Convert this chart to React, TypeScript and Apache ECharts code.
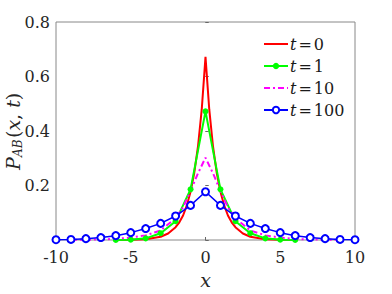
import React, { useEffect, useRef } from "react";
import * as echarts from "echarts";

const xTicks = [-10, -5, 0, 5, 10];
const yTicks = [0, 0.2, 0.4, 0.6, 0.8];

// t = 0 (smooth curve, no markers)
const redX = [-6, -5, -4, -3, -2.5, -2, -1.75, -1.5, -1.25, -1, -0.75, -0.5, -0.25, 0, 0.25, 0.5, 0.75, 1, 1.25, 1.5, 1.75, 2, 2.5, 3, 4, 5, 6];
const redY = [0.0002, 0.001, 0.003, 0.012, 0.024, 0.047, 0.065, 0.09, 0.127, 0.177, 0.247, 0.344, 0.48, 0.672, 0.48, 0.344, 0.247, 0.177, 0.127, 0.09, 0.065, 0.047, 0.024, 0.012, 0.003, 0.001, 0.0002];

// t = 1 (filled markers)
const greenX = [-6, -5, -4, -3, -2, -1, 0, 1, 2, 3, 4, 5, 6];
const greenY = [0.0, 0.001, 0.006, 0.025, 0.069, 0.186, 0.472, 0.186, 0.069, 0.025, 0.006, 0.001, 0.0];

// t = 10 (dash-dot)
const magentaX = [-9, -8, -7, -6, -5, -4, -3, -2, -1.5, -1, -0.5, 0, 0.5, 1, 1.5, 2, 3, 4, 5, 6, 7, 8, 9];
const magentaY = [0.0005, 0.001, 0.002, 0.004, 0.009, 0.017, 0.035, 0.08, 0.12, 0.18, 0.245, 0.302, 0.245, 0.18, 0.12, 0.08, 0.035, 0.017, 0.009, 0.004, 0.002, 0.001, 0.0005];

// t = 100 (open markers)
const blueX = [-10, -9, -8, -7, -6, -5, -4, -3, -2, -1, 0, 1, 2, 3, 4, 5, 6, 7, 8, 9, 10];
const blueY = [0.001, 0.002, 0.005, 0.009, 0.016, 0.027, 0.042, 0.061, 0.088, 0.127, 0.177, 0.127, 0.088, 0.061, 0.042, 0.027, 0.016, 0.009, 0.005, 0.002, 0.001];

const seriesNames = ["t = 0", "t = 1", "t = 10", "t = 100"];

const zip = (xs: number[], ys: number[]) => xs.map((x, i) => [x, ys[i]]);

const SERIF = "DejaVu Serif";

export default function App() {
  const ref = useRef<HTMLDivElement>(null);
  useEffect(() => {
    if (!ref.current) return;
    const chart = echarts.init(ref.current, undefined, { renderer: "svg" });
    const axisCommon = {
      type: "value" as const,
      axisLine: { show: false },
      splitLine: { show: false },
    };
    const tickIn = { show: true, inside: true, length: 3, lineStyle: { color: "#666", width: 1 } };
    const tickOut = { show: true, inside: false, length: 3, lineStyle: { color: "#666", width: 1 } };
    chart.setOption({
      animation: false,
      backgroundColor: "#fff",
      textStyle: { fontFamily: SERIF },
      grid: {
        left: 56,
        right: 37,
        top: 22,
        bottom: 53,
        show: true,
        borderColor: "#888",
        borderWidth: 1,
        backgroundColor: "transparent",
      },
      xAxis: [
        {
          ...axisCommon,
          axisTick: tickIn,
          min: xTicks[0],
          max: xTicks[xTicks.length - 1],
          interval: 5,
          position: "bottom",
          axisLabel: {
            show: true,
            margin: 9,
            color: "#262626",
            fontFamily: SERIF,
            fontSize: 16,
            formatter: (v: number) => String(v),
          },
          name: "x",
          nameLocation: "middle",
          nameGap: 30,
          nameTextStyle: { fontFamily: SERIF, fontStyle: "italic", fontSize: 19, color: "#262626" },
        },
        {
          ...axisCommon,
          axisTick: tickOut,
          min: xTicks[0],
          max: xTicks[xTicks.length - 1],
          interval: 5,
          position: "top",
          name: "",
          axisLabel: { show: false },
        },
      ],
      yAxis: [
        {
          ...axisCommon,
          axisTick: tickIn,
          min: yTicks[0],
          max: yTicks[yTicks.length - 1],
          interval: 0.2,
          position: "left",
          axisLabel: {
            show: true,
            margin: 6,
            color: "#262626",
            fontFamily: SERIF,
            fontSize: 16,
            formatter: (v: number) => (v === 0 ? "" : String(Math.round(v * 10) / 10)),
          },
        },
        {
          ...axisCommon,
          axisTick: tickOut,
          min: yTicks[0],
          max: yTicks[yTicks.length - 1],
          interval: 0.2,
          position: "right",
          name: "",
          axisLabel: { show: false },
        },
      ],
      legend: {
        orient: "vertical",
        left: 258,
        top: 31,
        itemWidth: 24,
        itemHeight: 8,
        itemGap: 6,
        data: [
          { name: seriesNames[0], itemStyle: { opacity: 0 } },
          { name: seriesNames[1] },
          { name: seriesNames[2], itemStyle: { opacity: 0 } },
          { name: seriesNames[3] },
        ],
        formatter: (name: string) => {
          const val = name.split("=")[1].trim();
          return `{i|t}{e|=}{n|${val}}`;
        },
        textStyle: {
          color: "#1a1a1a",
          fontFamily: SERIF,
          fontSize: 16,
          padding: [0, 0, 0, -3],
          rich: {
            i: { fontFamily: SERIF, fontStyle: "italic", fontSize: 16, color: "#1a1a1a", lineHeight: 18 },
            e: { fontFamily: SERIF, fontSize: 16, color: "#1a1a1a", padding: [0, 2, 0, 2], lineHeight: 18 },
            n: { fontFamily: SERIF, fontSize: 16, color: "#1a1a1a", lineHeight: 18 },
          },
        },
      },
      graphic: [
        {
          type: "group",
          x: 13,
          y: 170,
          rotation: Math.PI / 2,
          children: [
            {
              type: "text",
              x: 0,
              y: 0,
              style: {
                text: "P",
                fontFamily: SERIF,
                fontStyle: "italic",
                fontSize: 19,
                fill: "#262626",
                verticalAlign: "middle",
                align: "left",
              },
            },
            {
              type: "text",
              x: 13,
              y: 5,
              style: {
                text: "AB",
                fontFamily: SERIF,
                fontStyle: "italic",
                fontSize: 12,
                fill: "#262626",
                verticalAlign: "middle",
                align: "left",
              },
            },
            {
              type: "text",
              x: 32,
              y: 0,
              style: {
                text: "({i|x}, {i|t})",
                fontFamily: SERIF,
                fontSize: 19,
                fill: "#262626",
                verticalAlign: "middle",
                align: "left",
                rich: {
                  i: { fontFamily: SERIF, fontStyle: "italic", fontSize: 19, fill: "#262626" },
                },
              },
            },
          ],
        },
      ],
      series: [
        {
          name: seriesNames[0],
          type: "line",
          data: zip(redX, redY),
          symbol: "none",
          lineStyle: { color: "#ff0000", width: 2 },
          itemStyle: { color: "#ff0000" },
        },
        {
          name: seriesNames[1],
          type: "line",
          data: zip(greenX, greenY),
          symbol: "circle",
          symbolSize: 6,
          lineStyle: { color: "#00ff00", width: 2 },
          itemStyle: { color: "#00ff00" },
        },
        {
          name: seriesNames[2],
          type: "line",
          data: zip(magentaX, magentaY),
          symbol: "none",
          lineStyle: { color: "#ff00ff", width: 2, type: [6, 3, 2, 3] },
          itemStyle: { color: "#ff00ff" },
        },
        {
          name: seriesNames[3],
          type: "line",
          data: zip(blueX, blueY),
          symbol: "emptyCircle",
          symbolSize: 7,
          lineStyle: { color: "#0000ff", width: 1.5 },
          itemStyle: { color: "#0000ff", borderWidth: 1.5 },
        },
      ],
    });
    return () => chart.dispose();
  }, []);
  return (
    <div
      ref={ref}
      style={{ position: "fixed", left: 0, top: 0, width: 392, height: 294, background: "#fff" }}
    />
  );
}
